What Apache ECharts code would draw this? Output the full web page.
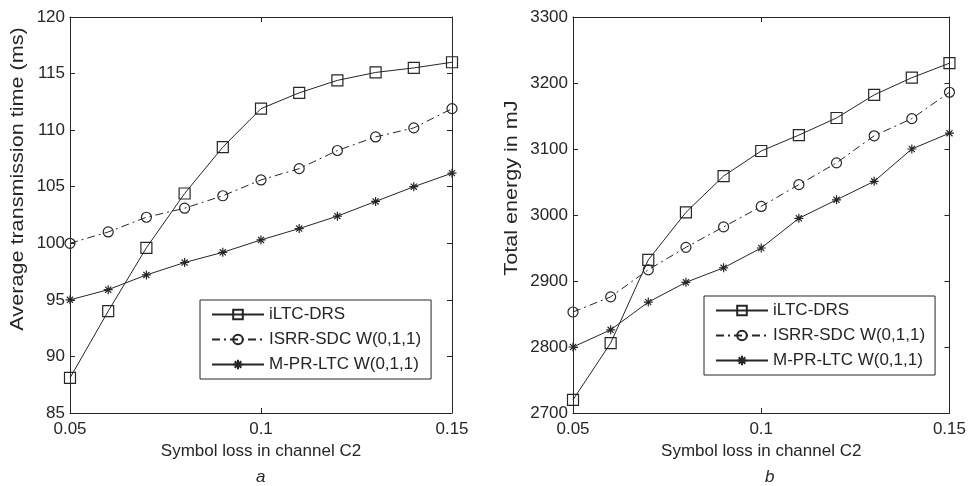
<!DOCTYPE html>
<html>
<head>
<meta charset="utf-8">
<script src="https://cdn.jsdelivr.net/npm/echarts@6/dist/echarts.min.js"></script>
<style>
  html, body { margin: 0; padding: 0; background: #fff; }
  #chart { width: 969px; height: 486px; }
</style>
</head>
<body>
<div id="chart"></div>
<script>
// Symbol loss in channel C2
const symbolLoss = [0.05, 0.06, 0.07, 0.08, 0.09, 0.10, 0.11, 0.12, 0.13, 0.14, 0.15];
const seriesNames = ['iLTC-DRS', 'ISRR-SDC W(0,1,1)', 'M-PR-LTC W(0,1,1)'];

// (a) Average transmission time (ms)
const timeILTC = [88.1, 94.0, 99.6, 104.4, 108.5, 111.9, 113.3, 114.4, 115.1, 115.5, 116.0];
const timeISRR = [100.0, 101.0, 102.3, 103.1, 104.2, 105.6, 106.6, 108.2, 109.4, 110.2, 111.9];
const timeMPR  = [95.0, 95.9, 97.2, 98.3, 99.2, 100.3, 101.3, 102.4, 103.7, 105.0, 106.2];

// (b) Total energy in mJ
const energyILTC = [2720, 2806, 2932, 3004, 3059, 3097, 3121, 3147, 3182, 3208, 3230];
const energyISRR = [2853, 2876, 2917, 2951, 2982, 3013, 3046, 3079, 3120, 3146, 3186];
const energyMPR  = [2800, 2826, 2868, 2898, 2920, 2950, 2995, 3023, 3051, 3100, 3124];

const ink = '#262626';
const font = 'Liberation Sans, Arial, sans-serif';
// eight-armed asterisk marker
const asterisk = 'path://M5 0 L5 10 M0 5 L10 5 M1.6 1.6 L8.4 8.4 M1.6 8.4 L8.4 1.6';

const pairs = (ys) => symbolLoss.map((x, i) => [x, ys[i]]);

function styleFor(idx) {
  if (idx === 0) {
    return { symbol: 'rect', symbolSize: 11, lineType: 'solid' };
  } else if (idx === 1) {
    return { symbol: 'circle', symbolSize: 10, lineType: [8, 4, 2, 4] };
  }
  return { symbol: asterisk, symbolSize: 9, lineType: 'solid' };
}

function makeSeries(gi, values) {
  return values.map((ys, idx) => {
    const s = styleFor(idx);
    return {
      name: seriesNames[idx],
      type: 'line',
      xAxisIndex: gi * 2,
      yAxisIndex: gi * 2,
      data: pairs(ys),
      symbol: s.symbol,
      symbolSize: s.symbolSize,
      showAllSymbol: true,
      lineStyle: { color: ink, width: 1, type: s.lineType },
      itemStyle: { color: 'transparent', borderColor: ink, borderWidth: 1.2 },
      emphasis: { disabled: true },
      z: 3
    };
  });
}

function xAxes(gi) {
  const base = {
    gridIndex: gi,
    type: 'value',
    min: 0.05,
    max: 0.15,
    interval: 0.05,
    splitLine: { show: false },
    axisLine: { show: true, lineStyle: { color: ink, width: 1 } },
    axisTick: { show: true, inside: true, length: 5, lineStyle: { color: ink } }
  };
  return [
    Object.assign({}, base, {
      position: 'bottom',
      name: 'Symbol loss in channel C2',
      nameLocation: 'middle',
      nameGap: 29,
      nameTextStyle: { color: ink, fontSize: 17, fontFamily: font },
      axisLabel: {
        color: ink, fontSize: 17, fontFamily: font, margin: 8,
        formatter: (v) => String(Math.round(v * 100) / 100)
      }
    }),
    Object.assign({}, base, { position: 'top', axisLabel: { show: false } })
  ];
}

function yAxes(gi, min, max, interval) {
  const base = {
    gridIndex: gi,
    type: 'value',
    min: min,
    max: max,
    interval: interval,
    splitLine: { show: false },
    axisLine: { show: true, lineStyle: { color: ink, width: 1 } },
    axisTick: { show: true, inside: true, length: 5, lineStyle: { color: ink } }
  };
  return [
    Object.assign({}, base, {
      position: 'left',
      axisLabel: { color: ink, fontSize: 17, fontFamily: font, margin: 5, formatter: (v) => String(v) }
    }),
    Object.assign({}, base, { position: 'right', axisLabel: { show: false } })
  ];
}

function legendFor(left, top) {
  return {
    orient: 'vertical',
    left: left,
    top: top,
    data: seriesNames,
    selectedMode: false,
    backgroundColor: '#fff',
    borderColor: ink,
    borderWidth: 1,
    borderRadius: 0,
    padding: [6, 10, 6, 11],
    itemWidth: 52,
    itemHeight: 12,
    itemGap: 8,
    textStyle: { color: ink, fontSize: 17, fontFamily: font }
  };
}

// rotated axis titles
function yTitle(text, x, y) {
  return {
    type: 'text',
    x: x,
    y: y,
    rotation: Math.PI / 2,
    scaleX: 1.2,
    style: {
      text: text,
      fill: ink,
      font: '18px ' + font,
      align: 'center',
      verticalAlign: 'middle'
    }
  };
}

const chart = echarts.init(document.getElementById('chart'), null, { renderer: 'canvas' });

chart.setOption({
  animation: false,
  backgroundColor: '#fff',
  grid: [
    { left: 70, top: 17, width: 382, height: 396, show: false },
    { left: 573, top: 17, width: 380, height: 396, show: false }
  ],
  xAxis: [].concat(xAxes(0), xAxes(1)),
  yAxis: [].concat(yAxes(0, 85, 120, 5), yAxes(1, 2700, 3300, 100)),
  legend: [legendFor(200, 300), legendFor(704, 296)],
  graphic: [
    yTitle('Average transmission time (ms)', 18, 179),
    yTitle('Total energy in mJ', 512, 188)
  ],
  title: [
    { text: 'a', left: 251, top: 464, textStyle: { color: ink, fontSize: 17, fontStyle: 'italic', fontWeight: 'normal', fontFamily: font } },
    { text: 'b', left: 760, top: 464, textStyle: { color: ink, fontSize: 17, fontStyle: 'italic', fontWeight: 'normal', fontFamily: font } }
  ],
  series: [].concat(
    makeSeries(0, [timeILTC, timeISRR, timeMPR]),
    makeSeries(1, [energyILTC, energyISRR, energyMPR])
  )
});
</script>
</body>
</html>
